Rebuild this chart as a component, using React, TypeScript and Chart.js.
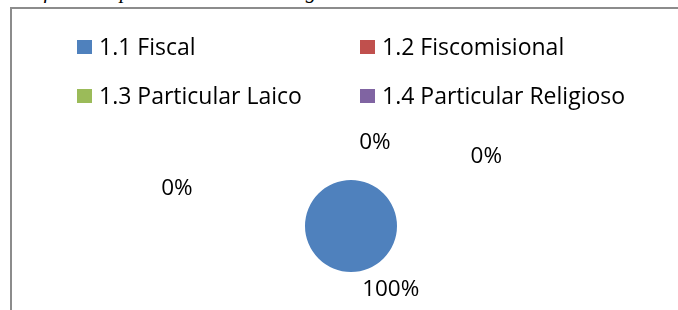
import React, { useEffect, useRef } from "react";
import { Chart, registerables } from "chart.js";

Chart.register(...registerables);

const categories = ["1.1 Fiscal", "1.2 Fiscomisional", "1.3 Particular Laico", "1.4 Particular Religioso"];
const values = [100, 0, 0, 0];
const percentLabels = ["100%", "0%", "0%", "0%"];
const colors = ["#4F81BD", "#C0504D", "#9BBB59", "#8064A2"];
const titleText = "Gráfico 1: Tipo de Educación Colegio Financiado";

// label placement: angle (deg, clockwise from top) and distance as multiple of radius
const labelPlacement = [
  { angle: 148, dist: 1.63 },
  { angle: 16, dist: 1.89 },
  { angle: 63, dist: 3.3 },
  { angle: 282, dist: 3.87 },
];

const FONT = "'Open Sans', Lato, sans-serif";

const labelPlugin = {
  id: "pctLabels",
  afterDatasetsDraw(chart: any) {
    const meta = chart.getDatasetMeta(0);
    const arc = meta.data[0];
    if (!arc) return;
    const { x, y, outerRadius } = arc.getProps(["x", "y", "outerRadius"], true);
    const ctx = chart.ctx;
    ctx.save();
    ctx.font = `22.5px ${FONT}`;
    ctx.fillStyle = "#000";
    ctx.textAlign = "center";
    ctx.textBaseline = "middle";
    percentLabels.forEach((t, i) => {
      const p = labelPlacement[i];
      const a = (p.angle * Math.PI) / 180;
      const lx = x + Math.sin(a) * outerRadius * p.dist;
      const ly = y - Math.cos(a) * outerRadius * p.dist;
      ctx.fillText(t, lx, ly);
    });
    ctx.restore();
  },
};

export default function App() {
  const ref = useRef<HTMLCanvasElement>(null);
  useEffect(() => {
    if (!ref.current) return;
    const chart = new Chart(ref.current, {
      type: "pie",
      data: {
        labels: categories,
        datasets: [
          {
            data: values,
            backgroundColor: colors,
            borderWidth: 0,
          },
        ],
      },
      options: {
        animation: false,
        responsive: false,
        layout: { padding: { left: 305, right: 281, top: 180, bottom: 38 } },
        plugins: {
          legend: { display: false },
          tooltip: { enabled: false },
        },
      },
      plugins: [labelPlugin],
    });
    return () => chart.destroy();
  }, []);

  const legendPos = [
    { left: 77, top: 39 },
    { left: 360, top: 39 },
    { left: 77, top: 88 },
    { left: 360, top: 88 },
  ];

  return (
    <div style={{ position: "absolute", left: 0, top: 0, width: 678, height: 310, overflow: "hidden", background: "#fff" }}>
      <div
        style={{
          position: "absolute",
          left: 10,
          top: -21,
          fontFamily: "'Liberation Serif', serif",
          fontStyle: "italic",
          fontSize: 21,
          lineHeight: "24px",
          whiteSpace: "nowrap",
          color: "#000",
        }}
      >
        {titleText}
      </div>
      <div
        style={{
          position: "absolute",
          left: 10,
          top: 7,
          width: 700,
          height: 320,
          borderLeft: "2px solid #8c8c8c",
          borderTop: "2px solid #8c8c8c",
          boxSizing: "border-box",
        }}
      />
      <canvas ref={ref} width={678} height={310} style={{ position: "absolute", left: 0, top: 0 }} />
      {categories.map((c, i) => (
        <div
          key={c}
          style={{
            position: "absolute",
            left: legendPos[i].left,
            top: legendPos[i].top,
            display: "flex",
            alignItems: "center",
            height: 15,
            whiteSpace: "nowrap",
          }}
        >
          <span style={{ display: "inline-block", width: 15, height: 14, background: colors[i] }} />
          <span style={{ marginLeft: 7, fontFamily: FONT, fontSize: 23, color: "#000", lineHeight: "15px" }}>{c}</span>
        </div>
      ))}
    </div>
  );
}
